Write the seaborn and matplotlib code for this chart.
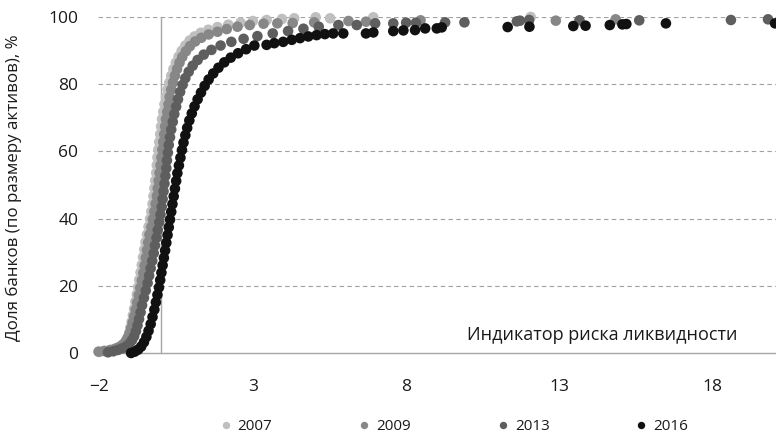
import numpy as np
import pandas as pd
import matplotlib
matplotlib.use("Agg")
import matplotlib.pyplot as plt
import seaborn as sns

# ---------------- data ----------------
years = ["2007", "2009", "2013", "2016"]

x_2007 = [-2.00, -1.80, -1.60, -1.45, -1.32, -1.22, -1.14, -1.08, -1.03, -0.99,
          -0.95, -0.91, -0.87, -0.83, -0.78, -0.74, -0.70, -0.66, -0.62, -0.58,
          -0.54, -0.50, -0.45, -0.40, -0.35, -0.31, -0.27, -0.24, -0.21, -0.18,
          -0.15, -0.13, -0.11, -0.08, -0.05, -0.02, 0.01, 0.04, 0.08, 0.12,
          0.17, 0.22, 0.28, 0.34, 0.41, 0.49, 0.58, 0.68, 0.80, 0.94,
          1.10, 1.30, 1.55, 1.85, 2.20, 2.60, 3.00, 3.45, 3.95, 4.35,
          5.05, 5.52, 6.93, 12.06]
y_2007 = [0.3, 0.6, 0.9, 1.3, 1.8, 2.5, 3.4, 4.6, 6.0, 7.6,
          9.3, 11.2, 13.2, 15.3, 17.5, 19.6, 21.8, 24.0, 26.2, 28.5,
          30.8, 33.0, 35.3, 37.6, 39.9, 42.1, 44.4, 46.7, 49.0, 51.3,
          53.6, 55.9, 58.2, 60.5, 62.8, 65.1, 67.4, 69.6, 71.8, 74.0,
          76.2, 78.4, 80.5, 82.5, 84.5, 86.4, 88.2, 89.9, 91.5, 93.0,
          94.2, 95.3, 96.2, 97.0, 97.7, 98.3, 98.8, 99.1, 99.4, 99.6,
          99.9, 99.6, 99.9, 100.0]

x_2009 = [-2.03, -1.85, -1.65, -1.48, -1.35, -1.24, -1.15, -1.08, -1.02, -0.97,
          -0.92, -0.87, -0.82, -0.77, -0.72, -0.67, -0.62, -0.57, -0.53, -0.49,
          -0.45, -0.41, -0.37, -0.31, -0.26, -0.21, -0.17, -0.13, -0.10, -0.07,
          -0.04, -0.01, 0.02, 0.05, 0.08, 0.11, 0.14, 0.17, 0.21, 0.25,
          0.29, 0.34, 0.40, 0.46, 0.53, 0.61, 0.70, 0.82, 0.95, 1.12,
          1.32, 1.56, 1.85, 2.15, 2.50, 2.90, 3.35, 3.80, 4.30, 5.00,
          6.12, 6.69, 8.47, 12.88, 14.83]
y_2009 = [0.4, 0.6, 0.9, 1.3, 1.8, 2.5, 3.4, 4.5, 5.8, 7.3,
          9.0, 10.9, 12.9, 15.0, 17.2, 19.4, 21.6, 23.8, 26.0, 28.3,
          30.6, 32.9, 35.2, 37.5, 39.8, 42.1, 44.4, 46.7, 49.0, 51.3,
          53.6, 55.9, 58.2, 60.5, 62.8, 65.1, 67.4, 69.6, 71.8, 74.0,
          76.2, 78.4, 80.5, 82.5, 84.5, 86.4, 88.1, 89.8, 91.3, 92.7,
          93.8, 94.8, 95.6, 96.4, 97.1, 97.6, 98.0, 98.1, 98.2, 98.4,
          98.8, 98.6, 99.0, 98.9, 99.3]

x_2013 = [-1.72, -1.55, -1.40, -1.25, -1.12, -1.02, -0.94, -0.87, -0.81, -0.76,
          -0.71, -0.66, -0.61, -0.55, -0.49, -0.43, -0.38, -0.33, -0.28, -0.23,
          -0.19, -0.14, -0.10, -0.05, -0.01, 0.03, 0.06, 0.09, 0.12, 0.15,
          0.18, 0.20, 0.23, 0.26, 0.30, 0.34, 0.39, 0.44, 0.50, 0.56,
          0.63, 0.71, 0.80, 0.91, 1.04, 1.20, 1.40, 1.65, 1.95, 2.30,
          2.70, 3.15, 3.65, 4.15, 4.65, 5.15, 5.79, 6.39, 6.99, 7.58,
          8.00, 8.32, 9.27, 9.90, 11.61, 11.71, 12.01, 13.65, 15.60, 18.59,
          19.80]
y_2013 = [0.2, 0.5, 0.9, 1.4, 2.0, 2.8, 3.8, 5.0, 6.5, 8.2,
          10.1, 12.1, 14.2, 16.4, 18.6, 20.8, 23.0, 25.2, 27.4, 29.7,
          32.0, 34.3, 36.6, 38.9, 41.2, 43.5, 45.8, 48.1, 50.4, 52.7,
          55.0, 57.3, 59.6, 61.9, 64.2, 66.5, 68.8, 71.1, 73.3, 75.5,
          77.7, 79.8, 81.8, 83.7, 85.5, 87.2, 88.8, 90.2, 91.5, 92.6,
          93.5, 94.3, 95.1, 95.8, 96.5, 97.1, 97.6, 97.6, 98.1, 98.1,
          98.3, 98.3, 98.4, 98.4, 98.7, 98.9, 99.1, 99.0, 99.0, 99.1,
          99.3]

x_2016 = [-0.97, -0.85, -0.74, -0.64, -0.55, -0.47, -0.40, -0.33, -0.27, -0.21,
          -0.16, -0.11, -0.06, -0.02, 0.02, 0.06, 0.10, 0.14, 0.18, 0.22,
          0.26, 0.30, 0.34, 0.38, 0.42, 0.46, 0.50, 0.54, 0.59, 0.64,
          0.69, 0.74, 0.80, 0.86, 0.93, 1.01, 1.10, 1.20, 1.31, 1.43,
          1.56, 1.71, 1.88, 2.07, 2.28, 2.52, 2.78, 3.05, 3.45, 3.70,
          3.99, 4.27, 4.54, 4.81, 5.08, 5.35, 5.62, 5.95, 6.69, 6.93,
          7.58, 7.91, 8.29, 8.62, 9.00, 9.16, 11.31, 12.02, 13.45, 13.85,
          14.64, 15.05, 15.18, 16.47, 20.03]
y_2016 = [0.0, 0.4, 1.0, 1.9, 3.2, 4.8, 6.6, 8.6, 10.7, 12.9,
          15.1, 17.3, 19.5, 21.7, 23.9, 26.1, 28.3, 30.5, 32.8, 35.1,
          37.4, 39.7, 42.0, 44.3, 46.6, 48.9, 51.2, 53.5, 55.8, 58.1,
          60.4, 62.6, 64.8, 67.0, 69.2, 71.3, 73.4, 75.5, 77.5, 79.5,
          81.4, 83.2, 84.9, 86.5, 87.9, 89.2, 90.4, 91.5, 91.7, 92.2,
          92.6, 93.2, 93.7, 94.2, 94.6, 94.9, 95.1, 95.1, 95.1, 95.4,
          95.8, 96.0, 96.1, 96.6, 96.6, 96.9, 97.0, 97.1, 97.3, 97.4,
          97.6, 97.8, 97.9, 98.1, 98.1]

x_ticks = [-2, 3, 8, 13, 18]
y_ticks = [0, 20, 40, 60, 80, 100]
x_label = "Индикатор риска ликвидности"
y_label = "Доля банков (по размеру активов), %"

colors = ["#BFBFBF", "#878787", "#5E5E5E", "#111111"]

# ---------------- build table ----------------
xs = [x_2007, x_2009, x_2013, x_2016]
ys = [y_2007, y_2009, y_2013, y_2016]
frames = [pd.DataFrame({"x": xv, "y": yv, "year": yr}) for xv, yv, yr in zip(xs, ys, years)]
df = pd.concat(frames, ignore_index=True)

# ---------------- plot ----------------
sns.set_theme(style="white")
plt.rcParams["font.family"] = ["Open Sans", "DejaVu Sans"]
plt.rcParams["axes.unicode_minus"] = True

grid_c = "#A0A0A0"
axis_c = "#A6A6A6"
text_c = "#1A1A1A"

fig = plt.figure(figsize=(7.76, 4.33), dpi=100)
ax = fig.add_axes([0.1262, 0.1848, 0.8754, 0.776])

sns.scatterplot(data=df, x="x", y="y", hue="year", hue_order=years,
                palette=colors, s=58, linewidth=0, edgecolor="none",
                ax=ax, legend=True, zorder=3, clip_on=False)

ax.set_xlim(-2.05, 20.1)
ax.set_ylim(0, 100)

# grid
for yv in y_ticks[1:]:
    ax.axhline(yv, color=grid_c, lw=0.8, ls=(0, (4, 3)), zorder=1)

# spines
for s in ["top", "right"]:
    ax.spines[s].set_visible(False)
ax.spines["bottom"].set_color(axis_c)
ax.spines["bottom"].set_linewidth(1.0)
ax.spines["left"].set_position(("data", 0))
ax.spines["left"].set_color(axis_c)
ax.spines["left"].set_linewidth(1.0)

ax.set_xticks(x_ticks)
ax.tick_params(axis="x", direction="out", length=4, width=1, color=axis_c,
               labelsize=12.5, labelcolor=text_c, pad=15)
ax.set_yticks(y_ticks)
ax.tick_params(axis="y", direction="out", length=4, width=1, color=axis_c,
               labelleft=False)
ax.set_xlabel("")
ax.set_ylabel("")

sec = ax.secondary_yaxis(0.0)
sec.spines["left"].set_visible(False)
sec.set_yticks(y_ticks)
sec.tick_params(axis="y", length=0, pad=14, labelsize=12.5, labelcolor=text_c)

fig.text(14 / 776, 1 - 188 / 433, y_label, rotation=90, ha="center", va="center",
         fontsize=12.2, color=text_c)

ax.text(0.742, 0.054, x_label, transform=ax.transAxes, ha="center", va="center",
        fontsize=13, color=text_c)

# legend
handles, labels = ax.get_legend_handles_labels()
ax.get_legend().remove()
fig.legend(handles, labels, loc="center", bbox_to_anchor=(0.585, 0.0145),
           ncol=4, frameon=False, fontsize=11, markerscale=0.7,
           handlelength=0.8, handletextpad=0.4, columnspacing=5.6,
           labelcolor=text_c)

fig.savefig("out.png", dpi=100)
